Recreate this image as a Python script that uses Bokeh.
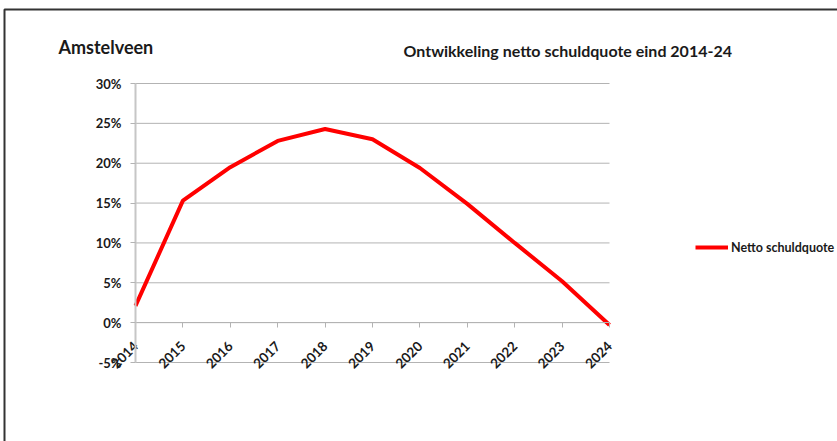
from bokeh.plotting import figure
from bokeh.models import (Range1d, FixedTicker, PrintfTickFormatter, Legend, LegendItem,
                          LinearAxis, Label, BoxAnnotation)
from bokeh.embed import file_html
from bokeh.resources import INLINE
from math import pi

years = [2014, 2015, 2016, 2017, 2018, 2019, 2020, 2021, 2022, 2023, 2024]
schuldquote = [2.1, 15.3, 19.5, 22.8, 24.3, 23.0, 19.4, 14.9, 10.0, 5.2, -0.3]
y_ticks = [-5, 0, 5, 10, 15, 20, 25, 30]
title_left = "Amstelveen"
title_right = "Ontwikkeling netto schuldquote eind 2014-24"
series_name = "Netto schuldquote"

FONT = "Lato"
TXT = "#1a1a1a"
GRID = "#b3b3b3"

# canvas and plot-area geometry (pixels)
W, H = 837, 441
PL, PR, PT, PB = 135, 609, 83, 362

# the whole canvas is the frame; ranges map the plot area onto PL..PR / PT..PB
xs = (years[-1] - years[0]) / (PR - PL)
ys = (y_ticks[-1] - y_ticks[0]) / (PB - PT)
x_range = Range1d(years[0] - PL * xs, years[-1] + (W - PR) * xs)
y_range = Range1d(y_ticks[0] - (H - PB) * ys, y_ticks[-1] + PT * ys)

p = figure(width=W, height=H, output_backend="svg", toolbar_location=None,
           x_range=x_range, y_range=y_range,
           min_border=0, x_axis_location=None, y_axis_location=None)
p.outline_line_color = None
p.xgrid.grid_line_color = None
p.ygrid.grid_line_color = None

# horizontal gridlines over the plot area
p.segment(x0=[years[0]] * len(y_ticks), x1=[years[-1]] * len(y_ticks), y0=y_ticks, y1=y_ticks,
          line_color=GRID, line_width=1)

# y axis at the first year
yax = LinearAxis(ticker=FixedTicker(ticks=y_ticks), formatter=PrintfTickFormatter(format="%d%%"),
                 fixed_location=years[0], bounds=(y_ticks[0], y_ticks[-1]))
yax.axis_line_color = "#c6c6c6"
yax.axis_line_width = 2
yax.major_tick_line_color = GRID
yax.major_tick_out = 5
yax.major_tick_in = 0
yax.minor_tick_line_color = None
yax.major_label_text_font = FONT
yax.major_label_text_font_style = "bold"
yax.major_label_text_font_size = "13px"
yax.major_label_text_color = TXT
yax.major_label_standoff = 9
p.add_layout(yax, "left")

# x axis on the 0% line
xax = LinearAxis(ticker=FixedTicker(ticks=years), fixed_location=0, bounds=(years[0], years[-1]))
xax.axis_line_color = GRID
xax.axis_line_width = 1
xax.major_tick_line_color = GRID
xax.major_tick_out = 5
xax.major_tick_in = 0
xax.minor_tick_line_color = None
xax.major_label_orientation = pi / 4
xax.major_label_text_font = FONT
xax.major_label_text_font_style = "bold"
xax.major_label_text_font_size = "13.5px"
xax.major_label_text_color = TXT
xax.major_label_standoff = 16
p.add_layout(xax, "below")

r = p.line(years, schuldquote, line_color="#ff0000", line_width=4)

legend = Legend(items=[LegendItem(label=series_name, renderers=[r])],
                location=(695, H - 257), orientation="vertical", margin=0, padding=0, spacing=0,
                glyph_width=33, glyph_height=20, label_height=20, label_standoff=3,
                border_line_color=None, background_fill_alpha=0,
                label_text_font=FONT, label_text_font_style="bold",
                label_text_font_size="12.5px", label_text_color=TXT)
p.add_layout(legend, "center")

p.add_layout(Label(x=58, y=H - 46, x_units="screen", y_units="screen", text=title_left,
                   text_font=FONT, text_font_style="bold", text_font_size="18px",
                   text_color=TXT, text_baseline="alphabetic"))
p.add_layout(Label(x=403, y=H - 50, x_units="screen", y_units="screen", text=title_right,
                   text_font=FONT, text_font_style="bold", text_font_size="16px",
                   text_color=TXT, text_baseline="alphabetic"))

# chart-area border (top and left)
p.add_layout(BoxAnnotation(left=4, right=W + 50, top=H - 9, bottom=-50,
                           left_units="screen", right_units="screen",
                           top_units="screen", bottom_units="screen",
                           fill_alpha=0, line_color="#333333", line_alpha=1.0, line_width=2))

open("out.html", "w").write(file_html(p, INLINE))
